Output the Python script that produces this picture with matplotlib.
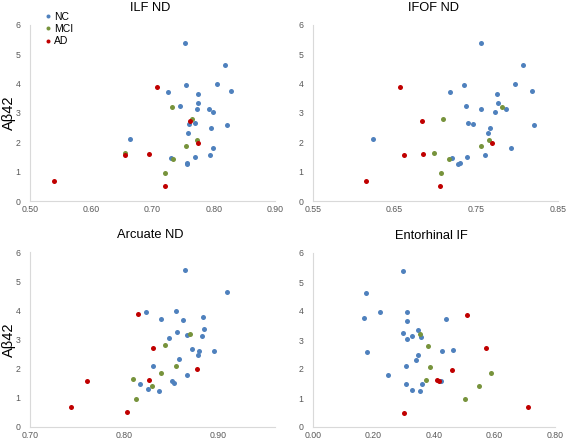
import matplotlib.pyplot as plt

plt.rcParams['font.family'] = ['Liberation Sans', 'DejaVu Sans']

# Abeta42 per subject, by group
nc_abeta = [5.39, 4.62, 3.98, 3.95, 3.76, 3.71, 3.66, 3.35, 3.25, 3.14, 3.12, 3.05,
            2.67, 2.62, 2.59, 2.48, 2.32, 2.10, 1.80, 1.57, 1.50, 1.47, 1.29, 1.25]
mci_abeta = [3.19, 2.81, 2.08, 1.86, 1.63, 1.42, 0.95]
ad_abeta = [3.87, 2.72, 1.98, 1.61, 1.57, 0.68, 0.50]

# ILF ND
nc_ilf = [0.753, 0.818, 0.805, 0.755, 0.828, 0.725, 0.775, 0.775, 0.745, 0.772, 0.792, 0.798,
          0.770, 0.759, 0.821, 0.796, 0.758, 0.663, 0.798, 0.794, 0.770, 0.730, 0.756, 0.756]
mci_ilf = [0.732, 0.764, 0.772, 0.755, 0.655, 0.734, 0.720]
ad_ilf = [0.707, 0.762, 0.774, 0.694, 0.655, 0.539, 0.720]

# IFOF ND
nc_ifof = [0.756, 0.807, 0.797, 0.735, 0.818, 0.718, 0.775, 0.777, 0.737, 0.756, 0.786, 0.773,
           0.740, 0.746, 0.820, 0.767, 0.764, 0.623, 0.792, 0.760, 0.739, 0.720, 0.730, 0.728]
mci_ifof = [0.782, 0.709, 0.765, 0.756, 0.698, 0.717, 0.707]
ad_ifof = [0.657, 0.683, 0.769, 0.685, 0.661, 0.615, 0.705]

# Arcuate ND
nc_arc = [0.865, 0.909, 0.855, 0.823, 0.884, 0.839, 0.862, 0.885, 0.856, 0.867, 0.882, 0.848,
          0.872, 0.879, 0.895, 0.878, 0.858, 0.830, 0.867, 0.851, 0.853, 0.817, 0.825, 0.837]
mci_arc = [0.870, 0.843, 0.855, 0.839, 0.809, 0.829, 0.812]
ad_arc = [0.815, 0.831, 0.877, 0.826, 0.761, 0.744, 0.803]

# Entorhinal IF
nc_ent = [0.298, 0.176, 0.223, 0.311, 0.168, 0.439, 0.310, 0.347, 0.298, 0.326, 0.356, 0.312,
          0.464, 0.426, 0.177, 0.348, 0.342, 0.307, 0.247, 0.424, 0.359, 0.309, 0.326, 0.353]
mci_ent = [0.353, 0.380, 0.386, 0.588, 0.372, 0.548, 0.503]
ad_ent = [0.509, 0.572, 0.459, 0.411, 0.417, 0.711, 0.302]

panels = [
    ('ILF ND', nc_ilf, mci_ilf, ad_ilf, (0.50, 0.90), [0.50, 0.60, 0.70, 0.80, 0.90]),
    ('IFOF ND', nc_ifof, mci_ifof, ad_ifof, (0.55, 0.85), [0.55, 0.65, 0.75, 0.85]),
    ('Arcuate ND', nc_arc, mci_arc, ad_arc, (0.70, 0.96), [0.70, 0.80, 0.90]),
    ('Entorhinal IF', nc_ent, mci_ent, ad_ent, (0.0, 0.80), [0.00, 0.20, 0.40, 0.60, 0.80]),
]

# axes boxes in pixels: left, bottom(from top), right, top
W, H = 567, 441
boxes = [(30, 201, 275, 25), (313, 201, 558, 25), (30, 427, 275, 252), (313, 427, 555, 253)]

fig = plt.figure(figsize=(W / 100, H / 100), dpi=100)

for i, (title, xn, xm, xa, xlim, xticks) in enumerate(panels):
    l, b, r, t = boxes[i]
    ax = fig.add_axes([l / W, 1 - b / H, (r - l) / W, (b - t) / H])
    ax.plot(xn, nc_abeta, 'o', color='#4F81BD', ms=3.6, mew=0, label='NC')
    ax.plot(xm, mci_abeta, 'o', color='#77933C', ms=3.6, mew=0, label='MCI')
    ax.plot(xa, ad_abeta, 'o', color='#C00000', ms=3.6, mew=0, label='AD')
    ax.set_xlim(xlim)
    ax.set_ylim(0, 6)
    ax.set_xticks(xticks)
    ax.set_xticklabels(['%.2f' % v for v in xticks])
    ax.set_yticks(range(7))
    ax.tick_params(length=0, labelsize=6.3, labelcolor='#595959')
    ax.tick_params(axis='y', pad=7)
    ax.tick_params(axis='x', pad=3)
    for s in ['top', 'right']:
        ax.spines[s].set_visible(False)
    for s in ['left', 'bottom']:
        ax.spines[s].set_color('#D9D9D9')
        ax.spines[s].set_linewidth(0.8)
    ax.set_title(title, fontsize=9.3, pad=10, x=0.49)
    if i % 2 == 0:
        ax.set_ylabel('Aβ42', fontsize=10.5)
        ax.yaxis.set_label_coords(-14 / (r - l), 0.5)
    if i == 0:
        ax.legend(loc='upper left', bbox_to_anchor=(0.025, 1.105), frameon=False,
                  fontsize=7.5, handletextpad=0.0, labelspacing=0.22,
                  borderpad=0, handlelength=1.2, markerscale=0.8)

fig.savefig('out.png', dpi=100, facecolor='white')
